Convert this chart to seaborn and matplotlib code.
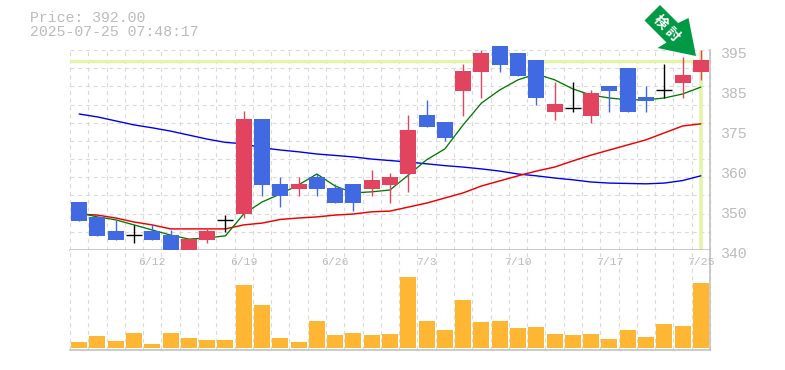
import matplotlib
matplotlib.use("Agg")
import matplotlib.pyplot as plt
import matplotlib.transforms as mtransforms
import numpy as np
import pandas as pd
import seaborn as sns
from matplotlib.patches import Polygon

price_label = "Price: 392.00"
time_label = "2025-07-25 07:48:17"
last_price = 392.0

open_p = [353.2, 349.1, 345.2, 344.1, 345.2, 344.1, 340.0, 342.8, 348.3, 349.9, 376.0, 358.2,
          356.8, 360.1, 357.1, 358.2, 356.8, 357.9, 360.9, 377.1, 375.2, 383.7, 389.0, 396.1,
          394.2, 392.2, 378.0, 379.1, 376.9, 385.1, 390.0, 382.1, 384.0, 385.9, 389.0]
high_p = [353.2, 349.1, 348.3, 346.9, 347.2, 345.5, 343.0, 346.0, 349.6, 378.2, 376.0, 360.1,
          360.1, 360.9, 358.2, 358.2, 362.0, 361.2, 377.1, 381.3, 375.2, 391.2, 395.0, 396.1,
          394.2, 392.2, 386.2, 386.2, 384.0, 385.1, 390.0, 385.1, 391.2, 393.1, 395.0]
low_p = [348.0, 343.9, 342.8, 341.9, 342.8, 340.0, 340.0, 341.9, 345.0, 348.8, 354.9, 351.8,
         354.9, 354.9, 352.9, 350.7, 354.9, 352.9, 356.0, 373.8, 370.0, 376.9, 381.8, 389.0,
         387.9, 379.9, 375.8, 378.0, 374.9, 378.0, 378.0, 378.0, 381.8, 381.8, 386.8]
close_p = [348.0, 343.9, 342.8, 344.1, 342.8, 340.0, 343.0, 345.2, 348.3, 376.0, 357.9, 354.9,
           358.2, 356.8, 352.9, 352.9, 359.3, 360.1, 373.0, 373.8, 370.8, 389.2, 394.2, 390.9,
           387.9, 381.8, 380.2, 379.1, 383.2, 383.7, 378.0, 381.0, 384.0, 388.1, 392.2]
ma_short = [350.2, 349.1, 348.3, 346.9, 345.5, 344.1, 343.0, 343.3, 343.9, 349.9, 353.2, 355.4,
            357.9, 360.9, 357.6, 355.7, 356.0, 356.5, 360.6, 364.8, 367.8, 374.4, 380.4, 384.0,
            386.8, 388.4, 386.8, 384.3, 382.6, 381.8, 381.3, 381.3, 381.8, 382.9, 384.8]
ma_mid = [349.9, 349.6, 348.8, 347.7, 346.9, 345.8, 345.8, 345.8, 345.8, 346.9, 347.4, 348.4,
          348.8, 349.1, 349.6, 349.9, 350.5, 350.7, 351.8, 352.9, 354.3, 355.7, 357.6, 359.0,
          360.4, 361.7, 362.8, 364.5, 366.1, 367.5, 368.9, 370.3, 372.2, 374.1, 374.7]
ma_long = [377.4, 376.6, 375.5, 374.4, 373.6, 372.7, 371.6, 370.5, 369.6, 369.2, 368.1, 367.5,
           367.0, 366.4, 366.0, 365.6, 365.0, 364.6, 364.2, 363.7, 363.2, 362.8, 362.3, 361.7,
           360.9, 360.4, 359.8, 359.3, 358.7, 358.4, 358.3, 358.2, 358.4, 359.1, 360.4]
volume = [6, 12, 7, 15, 4, 15, 10, 8, 8, 63, 43, 10, 6, 27, 13, 15, 13, 14,
          71, 27, 18, 48, 26, 27, 20, 21, 14, 13, 14, 9, 18, 11, 24, 22, 65]

date_ticks = [4, 9, 14, 19, 24, 29, 34]
date_labels = ["6/12", "6/19", "6/26", "7/3", "7/10", "7/17", "7/25"]
price_ticks = [395, 384, 373, 362, 351, 340]
price_labels = ["395", "385", "375", "360", "350", "340"]

UP = "#e2445f"
DOWN = "#4169e1"
GRID = "#d9d9d9"
FRAME = "#bdbdbd"
TEXT = "#bbbbbb"
MONO = "Liberation Mono"
W, H = 785, 370

sns.set_theme(style="white")
idx = np.arange(len(close_p))
df = pd.DataFrame({"idx": idx, "open": open_p, "high": high_p, "low": low_p, "close": close_p,
                   "ma_short": ma_short, "ma_mid": ma_mid, "ma_long": ma_long, "volume": volume})

fig = plt.figure(figsize=(W / 100, H / 100), dpi=100, facecolor="white")
ax = fig.add_axes([70 / W, 1 - 250 / H, 640 / W, 200 / H])
ax_vol = fig.add_axes([70 / W, 1 - 350 / H, 640 / W, 100 / H])

# main panel
ax.set_xlim(-0.5, 34.5)
ax.set_ylim(340, 395)
grid_style = dict(color=GRID, lw=0.8, ls=(0, (3.5, 3.5)), zorder=0, clip_on=False)
for g in np.arange(340, 396, 5):
    ax.axhline(g, **grid_style)
for g in np.arange(-0.5, 35):
    ax.axvline(g, **grid_style)
    ax_vol.axvline(g, **grid_style)

ax.axhline(last_price, color="#e2f5a8", lw=2.4, zorder=1)
ax.axvline(df["idx"].iloc[-1], color="#e2f5a8", lw=2.6, zorder=1)

sns.lineplot(data=df, x="idx", y="ma_long", color="#0000ee", lw=1.0, ax=ax, zorder=2)
sns.lineplot(data=df, x="idx", y="ma_mid", color="#ee0000", lw=1.05, ax=ax, zorder=2)
sns.lineplot(data=df, x="idx", y="ma_short", color="#007a00", lw=0.95, ax=ax, zorder=2)

# candles
for r in df.itertuples():
    if r.open == r.close:
        ax.vlines(r.idx, r.low, r.high, color="black", lw=1.0, zorder=3)
        ax.hlines(r.close, r.idx - 0.44, r.idx + 0.44, color="black", lw=1.0, zorder=3)
        continue
    col = UP if r.close > r.open else DOWN
    ax.vlines(r.idx, r.low, r.high, color=col, lw=1.0, zorder=3, clip_on=False)
    ax.bar(r.idx, abs(r.close - r.open), bottom=min(r.open, r.close), width=0.875, color=col,
           linewidth=0, zorder=4, clip_on=False)

ax.set_xticks([])
ax.set_yticks(price_ticks, labels=price_labels)
ax.yaxis.tick_right()
ax.tick_params(axis="y", length=0, pad=7, labelsize=10.7, labelcolor=TEXT)
label_shift = mtransforms.ScaledTranslation(0, -2 / 100, fig.dpi_scale_trans)
for t in ax.get_yticklabels():
    t.set_fontfamily(MONO)
    t.set_transform(t.get_transform() + label_shift)
ax.set_xlabel("")
ax.set_ylabel("")

# volume panel
sns.barplot(x=idx, y=volume, color="#ffb733", saturation=1, width=0.875, native_scale=True,
            linewidth=0, ax=ax_vol, zorder=2)
ax_vol.set_xlim(-0.5, 34.5)
ax_vol.set_ylim(-2, 98)
ax_vol.set_xticks([])
ax_vol.set_yticks([])
ax_vol.set_xlabel("")
ax_vol.set_ylabel("")
for d, lab in zip(date_ticks, date_labels):
    ax_vol.text(d, 86, lab, family=MONO, fontsize=8.2, color=TEXT, ha="center", va="center", zorder=5)

for a in (ax, ax_vol):
    for side in ("left", "top"):
        a.spines[side].set_visible(False)
    for side in ("right", "bottom"):
        a.spines[side].set_color(FRAME)
        a.spines[side].set_linewidth(1.1)

fig.text(30 / W, 1 - 18 / H, price_label, family=MONO, fontsize=10.7, color=TEXT, va="center")
fig.text(30 / W, 1 - 32.5 / H, time_label, family=MONO, fontsize=10.7, color=TEXT, va="center")

# arrow badge
arrow = [(660, 5), (644.5, 20.5), (666.5, 42.5), (657.5, 48), (696, 56), (688.5, 18), (678, 23)]
fig.add_artist(Polygon([(x / W, 1 - y / H) for x, y in arrow], closed=True, facecolor="#009944",
                       edgecolor="none", transform=fig.transFigure, zorder=6))
for ch, x, y in [("検", 660, 22), ("討", 672, 34)]:
    fig.text(x / W, 1 - y / H, ch, family=["Noto Sans CJK JP", "DejaVu Sans"], fontsize=10,
             fontweight="bold", color="white", rotation=-45, ha="center", va="center", zorder=7)

fig.savefig("out.png", dpi=100)
